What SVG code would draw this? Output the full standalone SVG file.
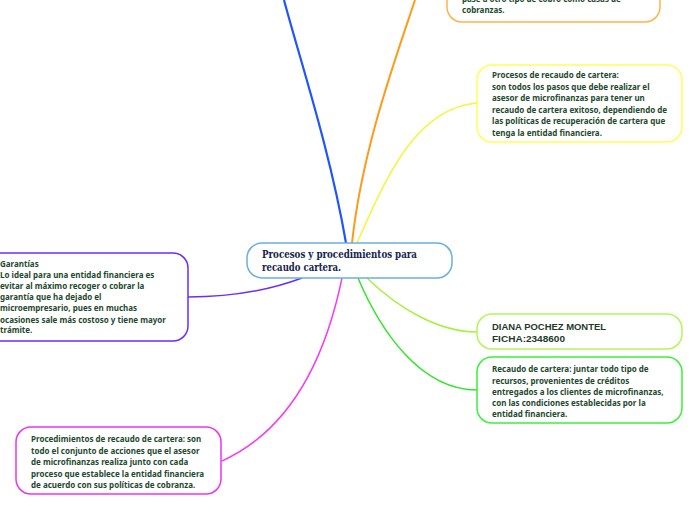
<svg xmlns="http://www.w3.org/2000/svg" width="696" height="520" viewBox="0 0 696 520">
<style>
.box{fill:#ffffff;stroke-width:1.5}
.t{font-family:"Noto Sans","Liberation Sans",sans-serif;font-size:8px;font-weight:700;fill:#1d4a2e}
.title{font-family:"DejaVu Serif","Liberation Serif",serif;font-size:11px;font-weight:700;fill:#14234d}
.heavy{font-family:"Liberation Sans","DejaVu Sans",sans-serif;font-size:9.5px;font-weight:700;fill:#1d3a2a}
.c{fill:none}
</style>
<rect width="696" height="520" fill="#ffffff"/>
<g id="connectors">
<path class="c" d="M284,0 C300,60 330,150 346,243" stroke="#1f55ff" stroke-width="2.2"/>
<path class="c" d="M415,0 C395,60 362,150 352,243" stroke="#ff9a1a" stroke-width="2"/>
<path class="c" d="M357,243 C385,180 415,108 477,103" stroke="#f5f53a" stroke-width="1.5"/>
<path class="c" d="M188,297 C230,297 270,290 302,278" stroke="#6a2dff" stroke-width="1.5"/>
<path class="c" d="M342,278 C325,360 290,430 222,461" stroke="#f23ef2" stroke-width="1.5"/>
<path class="c" d="M367,278 C400,310 440,332 477,332" stroke="#a8f03a" stroke-width="1.5"/>
<path class="c" d="M358,278 C380,330 420,390 477,390" stroke="#33e62a" stroke-width="1.5"/>
</g>
<g id="n-orange">
<rect class="box" x="447" y="-60" width="213" height="82" rx="15" stroke="#ffb347"/>
<text class="t" x="462" y="2">pase a otro tipo de cobro como casas de</text>
<text class="t" x="462" y="13">cobranzas.</text>
</g>
<g id="n-yellow">
<rect class="box" x="477" y="65" width="205" height="77" rx="15" stroke="#ffff55"/>
<text class="t" x="492" y="78">Procesos de recaudo de cartera:</text>
<text class="t" x="492" y="89.5">son todos los pasos que debe realizar el</text>
<text class="t" x="492" y="101">asesor de microfinanzas para tener un</text>
<text class="t" x="492" y="112.5">recaudo de cartera exitoso, dependiendo de</text>
<text class="t" x="492" y="124">las políticas de recuperación de cartera que</text>
<text class="t" x="492" y="135.5">tenga la entidad financiera.</text>
</g>
<g id="n-center">
<rect x="247" y="243" width="205" height="35" rx="15" fill="#ffffff" stroke="#6aaee0" stroke-width="1.5"/>
<text class="title" x="262" y="258" textLength="155" lengthAdjust="spacingAndGlyphs">Procesos y procedimientos para</text>
<text class="title" x="262" y="271" textLength="79" lengthAdjust="spacingAndGlyphs">recaudo cartera.</text>
</g>
<g id="n-garantias">
<rect class="box" x="-20" y="253" width="208" height="88" rx="15" stroke="#6a2dff"/>
<text class="t" x="0" y="267">Garantías</text>
<text class="t" x="0" y="278">Lo ideal para una entidad financiera es</text>
<text class="t" x="0" y="289">evitar al máximo recoger o cobrar la</text>
<text class="t" x="0" y="300">garantía que ha dejado el</text>
<text class="t" x="0" y="311">microempresario, pues en muchas</text>
<text class="t" x="0" y="322.5">ocasiones sale más costoso y tiene mayor</text>
<text class="t" x="0" y="333">trámite.</text>
</g>
<g id="n-diana">
<rect class="box" x="477" y="314" width="205" height="35" rx="15" stroke="#b4f55a"/>
<text class="heavy" x="492" y="330" textLength="114" lengthAdjust="spacingAndGlyphs">DIANA POCHEZ MONTEL</text>
<text class="heavy" x="492" y="342" textLength="73" lengthAdjust="spacingAndGlyphs">FICHA:2348600</text>
</g>
<g id="n-recaudo">
<rect class="box" x="477" y="357" width="205" height="66" rx="15" stroke="#3cf03c"/>
<text class="t" x="492" y="372">Recaudo de cartera: juntar todo tipo de</text>
<text class="t" x="492" y="383.5">recursos, provenientes de créditos</text>
<text class="t" x="492" y="395">entregados a los clientes de microfinanzas,</text>
<text class="t" x="492" y="406">con las condiciones establecidas por la</text>
<text class="t" x="492" y="417">entidad financiera.</text>
</g>
<g id="n-pink">
<rect class="box" x="16" y="427" width="205" height="67" rx="15" stroke="#ee33ee"/>
<text class="t" x="31" y="442">Procedimientos de recaudo de cartera: son</text>
<text class="t" x="31" y="453.5">todo el conjunto de acciones que el asesor</text>
<text class="t" x="31" y="465">de microfinanzas realiza junto con cada</text>
<text class="t" x="31" y="476.5">proceso que establece la entidad financiera</text>
<text class="t" x="31" y="488">de acuerdo con sus políticas de cobranza.</text>
</g>
</svg>
